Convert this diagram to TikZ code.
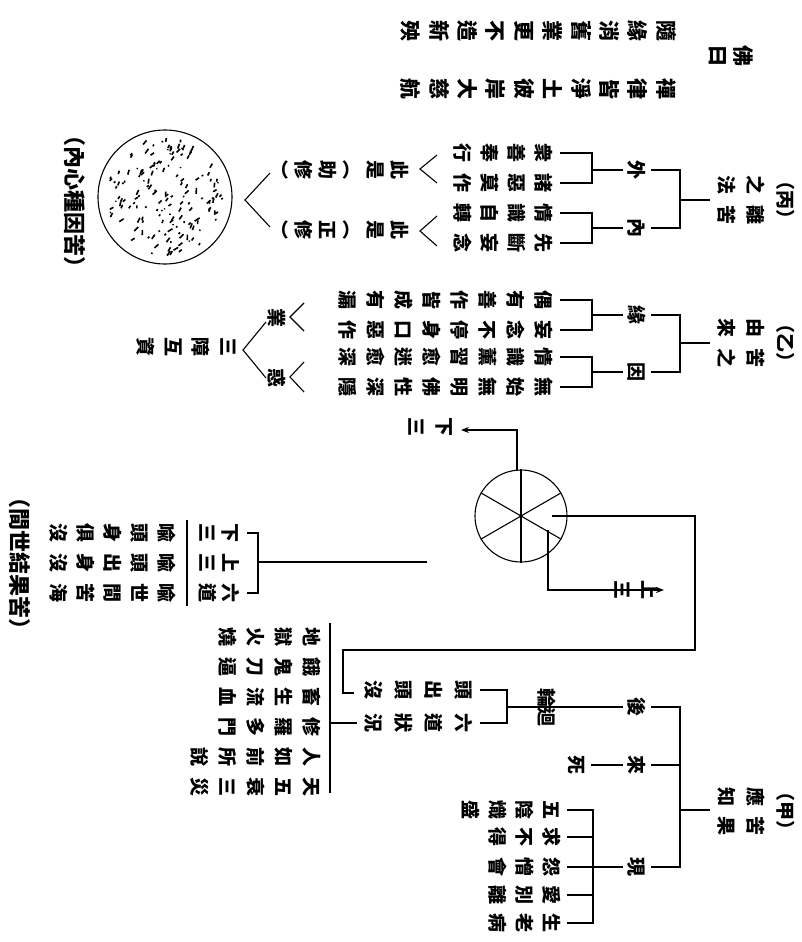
\documentclass[tikz,border=0pt]{standalone}
\usepackage{fontspec}
\setmainfont{Noto Sans CJK TC}
\usetikzlibrary{arrows.meta}
\makeatletter
\newlength\vcpitch
\newcommand\vcol[2][27pt]{\setlength\vcpitch{#1}\vbox{\offinterlineskip\@tfor\vc@ch:=#2\do{\hbox to 1em{\vrule width0pt height.5\vcpitch depth.5\vcpitch\hss\raisebox{-.38em}{\vc@ch}\hss}}}}
\makeatother
\newcommand\gf{\fontsize{19pt}{19pt}\selectfont\bfseries}
\newcommand\bigf{\fontsize{21pt}{21pt}\selectfont\bfseries}
\newcommand\capf{\fontsize{22pt}{22pt}\selectfont\bfseries}
\tikzset{
  vt/.style={rotate=-90,anchor=north,inner sep=0pt,font=\gf},
  vtb/.style={rotate=-90,anchor=north,inner sep=0pt,font=\bigf},
  ht/.style={rotate=-90,inner sep=0pt,font=\capf},
  hs/.style={rotate=-90,inner sep=0pt,font=\gf},
  arr/.style={-{Stealth[length=8pt,width=6pt]}}
}
\begin{document}
\begin{tikzpicture}[x=1pt,y=-1pt,line width=1.1pt]
\fill[white] (0,0) rectangle (802,942);
\useasboundingbox (0,0) rectangle (802,942);

% ---------- verse
\node[vtb] (v1) at (681,31) {\vcol[28.4pt]{隨緣消舊業更不造新殃}};
\node[vtb] (v2) at (681,89) {\vcol[28.4pt]{禪律皆淨土彼岸大慈航}};
\node[vtb] (fo) at (757,56) {\vcol[25pt]{佛曰}};

% ---------- (丙)
\node[hs] (bingp) at (786,200) {（丙）};
\node[vt] (bing1) at (771,185) {\vcol[29pt]{之法}};
\node[vt] (bing2) at (771,215) {\vcol[29pt]{離苦}};
\node[vt] (wai) at (651,170) {\vcol{外}};
\node[vt] (nei) at (651,228) {\vcol{內}};
\coordinate (bingJ) at (680,200);
\coordinate (bingL) at (710,200);
\draw (bingL) -- (bingJ);
\draw (wai.north) -- (680,170) -- (680,228) -- (nei.north);
\draw (wai.south) -- (592,170);
\draw (560,153) -- (592,153) -- (592,183) -- (560,183);
\draw (nei.south) -- (592,228);
\draw (560,213) -- (592,213) -- (592,243) -- (560,243);
\node[vt] (b1) at (558,153) {\vcol{衆善奉行}};
\node[vt] (b2) at (558,183) {\vcol{諸惡莫作}};
\node[vt] (b3) at (558,213) {\vcol{情識自轉}};
\node[vt] (b4) at (558,243) {\vcol{先斷妄念}};
\draw (437,155) -- (420,169) -- (437,183);
\draw (437,216) -- (420,231) -- (437,246);
\node[vt] (zhu) at (412,170) {\vcol[24pt]{此是︵助修︶}};
\node[vt] (zheng) at (412,230) {\vcol[24pt]{此是︵正修︶}};
\draw (270,173) -- (245,200) -- (270,227);
\node[circle,draw,minimum size=134pt,inner sep=0pt] (seed) at (165,197) {};
\pgfmathsetseed{11}
\foreach \i in {1,...,160}{
  \pgfmathsetmacro\rr{59*sqrt(rnd)}
  \pgfmathsetmacro\aa{360*rnd}
  \pgfmathsetmacro\ll{1+5*rnd}
  \pgfmathsetmacro\tt{-30-60*rnd}
  \draw[line width=1.6pt,shift={(seed.center)}] (\aa:\rr) -- ++(\tt:\ll);
}
\node[ht] (cap1) at (75,201) {（內心種因苦）};

% ---------- (乙)
\node[hs] (yip) at (786,343) {（乙）};
\node[vt] (yi1) at (771,328) {\vcol[29pt]{由來}};
\node[vt] (yi2) at (771,358) {\vcol[29pt]{苦之}};
\node[vt] (yuan) at (651,315) {\vcol{緣}};
\node[vt] (yin) at (651,372) {\vcol{因}};
\draw (710,343) -- (680,343);
\draw (yuan.north) -- (680,315) -- (680,372) -- (yin.north);
\draw (yuan.south) -- (592,315);
\draw (560,300) -- (592,300) -- (592,330) -- (560,330);
\draw (yin.south) -- (592,372);
\draw (560,357) -- (592,357) -- (592,387) -- (560,387);
\node[vt] (c1) at (558,300) {\vcol[28pt]{偶有善作皆成有漏}};
\node[vt] (c2) at (558,330) {\vcol[28pt]{妄念不停身口惡作}};
\node[vt] (c3) at (558,357) {\vcol[28pt]{情識薰習愈迷愈深}};
\node[vt] (c4) at (558,387) {\vcol[28pt]{無始無明佛性深隱}};
\draw (304,303) -- (290,317) -- (304,331);
\draw (304,362) -- (290,377) -- (304,392);
\node[vt] (ye) at (289,318) {\vcol[24pt]{業}};
\node[vt] (huo) at (289,378) {\vcol[24pt]{惑}};
\draw (266,322) -- (243,350) -- (266,378);
\node[vt] (sanz) at (243,347) {\vcol[27.5pt]{三障互資}};

% ---------- wheel
\node[circle,draw,minimum size=92pt,inner sep=0pt] (wheel) at (521,516) {};
\draw (wheel.90) -- (wheel.270);
\draw (wheel.30) -- (wheel.210);
\draw (wheel.150) -- (wheel.330);
\node[vt] (xia) at (459,427) {\vcol[28pt]{下三}};
\node[vt] (shang) at (664,590) {\vcol[27pt]{上三}};
\coordinate (wT) at (517,471);
\coordinate (wTc) at (517,430);
\draw[arr] (wT) -- (wTc) -- (461,430);
\coordinate (wA) at (548,530);
\draw[arr] (wA) -- (548,590) -- (shang.north);
\coordinate (wB) at (552,516);
\draw (wB) -- (695,516) -- (695,650) -- (343,650) -- (343,693) -- (354,693);

% ---------- 六道 metaphors
\coordinate (ldE) at (427,562);
\draw (ldE) -- (258,562);
\draw (247,533) -- (258,533) -- (258,593) -- (247,593);
\node[vt] (l1) at (243,533) {\vcol[23pt]{下三}};
\node[vt] (l2) at (243,563) {\vcol[23pt]{上三}};
\node[vt] (l3) at (243,593) {\vcol[23pt]{六道}};
\draw (187,520) -- (187,606);
\node[vt] (m1) at (181,533) {\vcol{喩頭身俱沒}};
\node[vt] (m2) at (181,563) {\vcol{喩頭出身沒}};
\node[vt] (m3) at (181,593) {\vcol{喩世間苦海}};
\node[ht] (cap2) at (20,563) {（間世結果苦）};

% ---------- (甲)
\node[hs] (jiap) at (786,811) {（甲）};
\node[vt] (jia1) at (771,797) {\vcol[29pt]{應知}};
\node[vt] (jia2) at (771,826) {\vcol[29pt]{苦果}};
\draw (710,810) -- (680,810);
\node[vt] (hou) at (651,707) {\vcol{後}};
\node[vt] (lai) at (651,765) {\vcol{來}};
\node[vt] (xian) at (651,867) {\vcol{現}};
\draw (hou.north) -- (680,707) -- (680,867) -- (xian.north);
\draw (lai.north) -- (680,765);
\node[hs] (lunhui) at (547,707) {輪迴};
\draw (hou.south) -- (lunhui.south);
\draw (lunhui.north) -- (507,707);
\draw (480,690) -- (507,690) -- (507,723) -- (480,723);
\node[vt] (t1) at (479,690) {\vcol[30pt]{頭出頭沒}};
\node[vt] (t2) at (479,723) {\vcol[30pt]{六道狀況}};
\node[vt] (si) at (591,765) {\vcol{死}};
\draw (lai.south) -- (si.north);
\draw (xian.south) -- (593,867);
\draw (567,810) -- (593,810) -- (593,923) -- (567,923);
\draw (567,837) -- (593,837);
\draw (567,867) -- (593,867);
\draw (567,895) -- (593,895);
\node[vt] (k1) at (566,810) {\vcol{五陰熾盛}};
\node[vt] (k2) at (566,837) {\vcol{求不得}};
\node[vt] (k3) at (566,867) {\vcol{怨憎會}};
\node[vt] (k4) at (566,895) {\vcol{愛別離}};
\node[vt] (k5) at (566,923) {\vcol{生老病}};

% ---------- six realms
\draw (330,623) -- (330,793);
\draw (330,723) -- (357,723);
\node[vt] (s1) at (326,637) {\vcol[28pt]{地獄火燒}};
\node[vt] (s2) at (326,667) {\vcol[28pt]{餓鬼刀逼}};
\node[vt] (s3) at (326,697) {\vcol[28pt]{畜生流血}};
\node[vt] (s4) at (326,727) {\vcol[28pt]{修羅多門}};
\node[vt] (s5) at (326,757) {\vcol[28pt]{人如前所說}};
\node[vt] (s6) at (326,787) {\vcol[28pt]{天五衰三災}};
\end{tikzpicture}
\end{document}
